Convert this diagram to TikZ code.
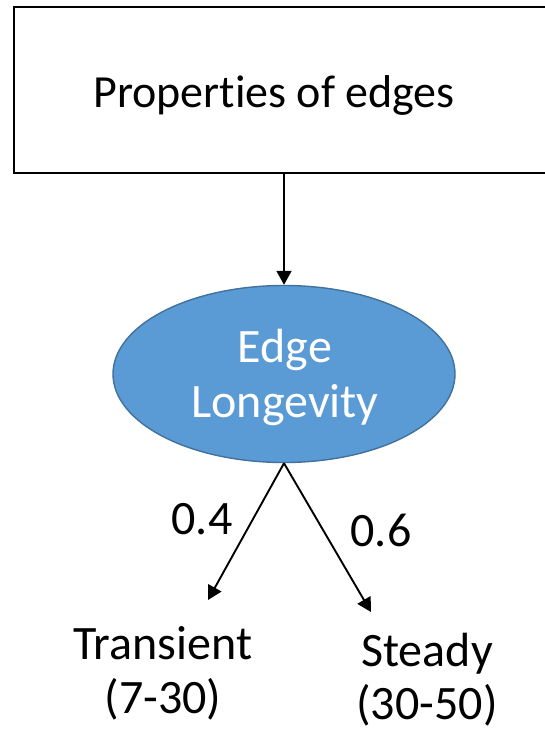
\documentclass[tikz,border=0pt]{standalone}
\usepackage{fontspec}
\setmainfont[Ligatures=NoCommon]{Carlito}
\usetikzlibrary{shapes.geometric,arrows.meta}
\definecolor{ovalfill}{HTML}{5B9BD5}
\definecolor{ovalline}{HTML}{41719C}
\begin{document}
\begin{tikzpicture}[x=1pt,y=-1pt,
  lbl/.style={font=\fontsize{48}{54}\selectfont, align=center, inner sep=0pt},
  link/.style={line width=1.9pt, -{Triangle[length=14pt,width=15pt]}}]
\useasboundingbox (0,0) rectangle (545,733);
\clip (0,0) rectangle (545,733);
% top box
\node[draw, line width=2.2pt, minimum width=546pt, minimum height=166pt, inner sep=0pt] (box) at (287,90) {};
\node[lbl, font=\fontsize{46}{54}\selectfont] (boxtext) at (274,95) {Properties of edges};
% central oval
\node[ellipse, fill=ovalfill, draw=ovalline, line width=1.4pt, inner sep=0pt,
      minimum width=342pt, minimum height=177pt] (oval) at (284,374) {};
\node[lbl, text=white, font=\fontsize{48}{55}\selectfont] (ovaltext) at (285,377) {Edge\\Longevity};
% arrow tips of the two branches
\coordinate (tipL) at (208,600);
\coordinate (tipR) at (371,612);
% outcome labels
\node[lbl] (transient) at (163,673) {Transient\\(7-30)};
\node[lbl, font=\fontsize{48}{53}\selectfont] (steady) at (427,680) {Steady\\(30-50)};
\node[lbl] (pL) at (202,519) {0.4};
\node[lbl] (pR) at (381,530) {0.6};
% connectors
\draw[link] (box.south -| oval.north) -- (oval.north);
\draw[link] (oval.south) -- (tipL);
\draw[link] (oval.south) -- (tipR);
\end{tikzpicture}
\end{document}
